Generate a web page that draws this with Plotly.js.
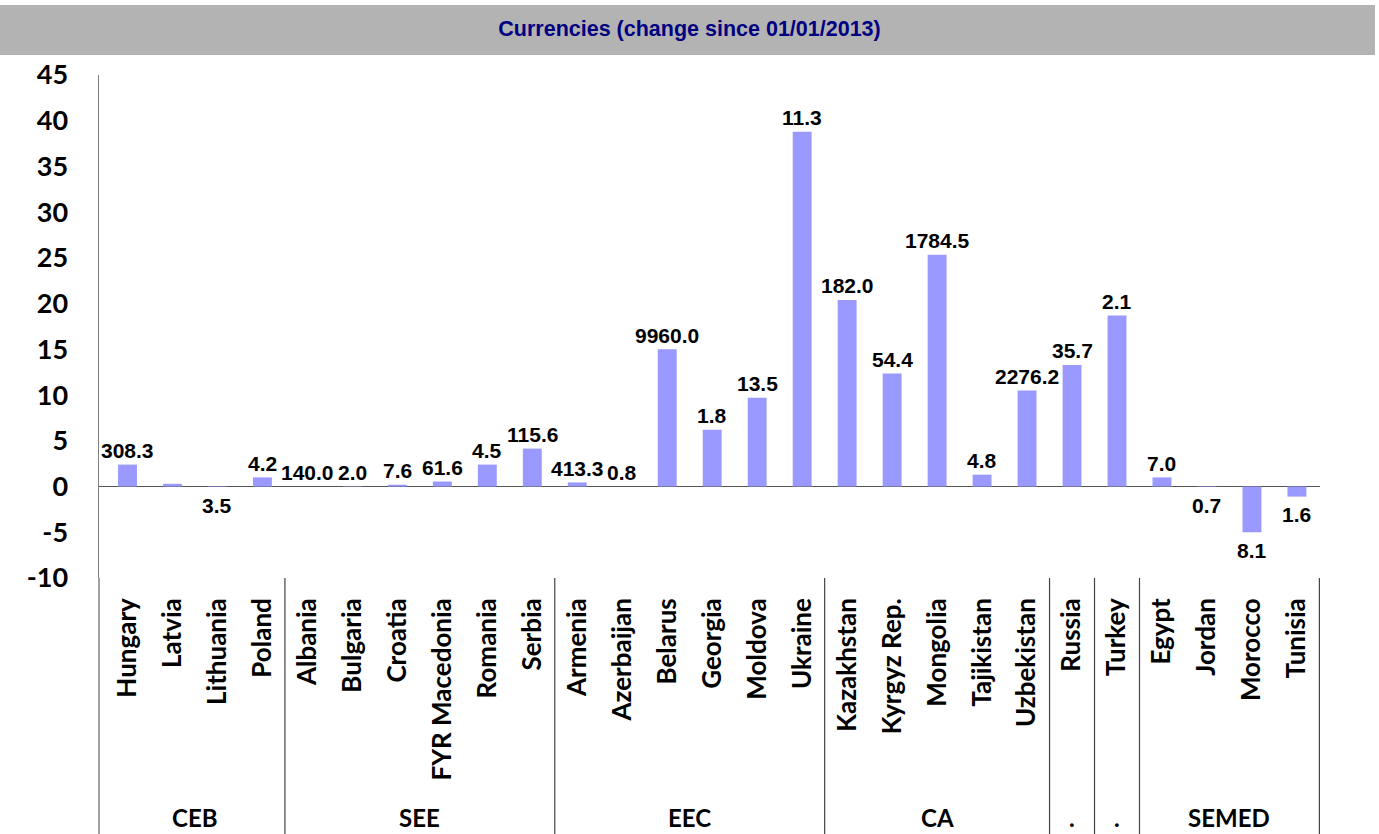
<!DOCTYPE html>
<html>
<head>
<meta charset="utf-8">
<script src="https://cdn.plot.ly/plotly-3.0.1.min.js"></script>
<style>html,body{margin:0;padding:0;background:#fff;}#chart{width:1379px;height:834px;}</style>
</head>
<body>
<div id="chart"></div>
<script>
var countries = ['Hungary','Latvia','Lithuania','Poland',
  'Albania','Bulgaria','Croatia','FYR Macedonia','Romania','Serbia',
  'Armenia','Azerbaijan','Belarus','Georgia','Moldova','Ukraine',
  'Kazakhstan','Kyrgyz Rep.','Mongolia','Tajikistan','Uzbekistan',
  'Russia','Turkey',
  'Egypt','Jordan','Morocco','Tunisia'];
var changes = [2.4,0.3,-0.05,1.0,
  0.0,0.05,0.2,0.55,2.4,4.15,
  0.45,0.0,15.0,6.2,9.7,38.8,
  20.4,12.35,25.35,1.3,10.5,
  13.3,18.7,
  1.0,-0.05,-5.0,-1.1];
var rateLabels = ['308.3','','3.5','4.2',
  '140.0','2.0','7.6','61.6','4.5','115.6',
  '413.3','0.8','9960.0','1.8','13.5','11.3',
  '182.0','54.4','1784.5','4.8','2276.2',
  '35.7','2.1',
  '7.0','0.7','8.1','1.6'];
var groupNames = ['CEB','SEE','EEC','CA','.','.','SEMED'];
var groupSizes = [4,6,6,5,1,1,4];
var yTickVals = [-10,-5,0,5,10,15,20,25,30,35,40,45];
var yTickText = ['-10','-5','0','5','10','15','20','25','30','35','40','45'];

var plotBottomPx = 256, plotHeightPx = 503;
var belowPaper = -plotBottomPx / plotHeightPx;

var annotations = [];
countries.forEach(function(c, i){
  if (!rateLabels[i]) return;
  var neg = changes[i] < 0;
  annotations.push({
    x: c, y: changes[i], xref: 'x', yref: 'y',
    text: rateLabels[i], showarrow: false,
    yshift: neg ? -18 : 14,
    font: {family: 'Liberation Sans, Arial, sans-serif', size: 21, color: '#000', weight: 'bold'}
  });
});

var shapes = [];
shapes.push({type:'rect', xref:'paper', yref:'paper', x0:-99/1221, x1:1276/1221,
  y0:(578-55)/503, y1:(578-5)/503, fillcolor:'#B3B3B3', line:{width:0}, layer:'below'});
shapes.push({type:'line', xref:'paper', yref:'paper', x0:0, x1:0, y0:belowPaper, y1:0,
  line:{color:'#808080', width:1.5}});
var start = 0;
groupNames.forEach(function(g, k){
  var end = start + groupSizes[k];
  shapes.push({type:'line', xref:'x', yref:'paper', x0:end-0.5, x1:end-0.5, y0:belowPaper, y1:0,
    line:{color:'#444444', width:1.2}});
  annotations.push({
    x: (start + end - 1)/2, xref:'x', y: (578-817)/503, yref:'paper',
    text: g, showarrow:false, yanchor:'middle',
    font:{family:'Lato, Open Sans, sans-serif', size:24, color:'#000', weight:'bold'}
  });
  start = end;
});

var trace = {
  type:'bar', x: countries, y: changes,
  marker:{color:'#9999FF'}, width:0.42, hoverinfo:'x+y'
};

var layout = {
  width:1379, height:834,
  margin:{l:99, r:59, t:75, b:256},
  paper_bgcolor:'#ffffff', plot_bgcolor:'#ffffff',
  showlegend:false,
  title:{text:'Currencies (change since 01/01/2013)', x:0.5, xref:'container', xanchor:'center',
    y:1-28/834, yref:'container', yanchor:'middle',
    font:{family:'Liberation Sans, Arial, sans-serif', size:21.5, color:'#000080', weight:'bold'}},
  xaxis:{type:'category', showgrid:false, zeroline:false, showline:false, ticks:'',
    tickangle:-90, ticklabelstandoff:14,
    tickfont:{family:'Lato, Open Sans, sans-serif', size:26, color:'#000', weight:'bold'}},
  yaxis:{range:[-10,45], tickmode:'array', tickvals:yTickVals, ticktext:yTickText,
    showgrid:false, zeroline:true, zerolinecolor:'#555555', zerolinewidth:1.5,
    showline:true, linecolor:'#808080', linewidth:1.5, ticks:'', ticklabelstandoff:24,
    tickfont:{family:'Lato, Open Sans, sans-serif', size:27, color:'#000', weight:'bold'}},
  annotations: annotations,
  shapes: shapes,
  bargap:0.58
};

Plotly.newPlot('chart', [trace], layout, {displayModeBar:false, staticPlot:true});
</script>
</body>
</html>
